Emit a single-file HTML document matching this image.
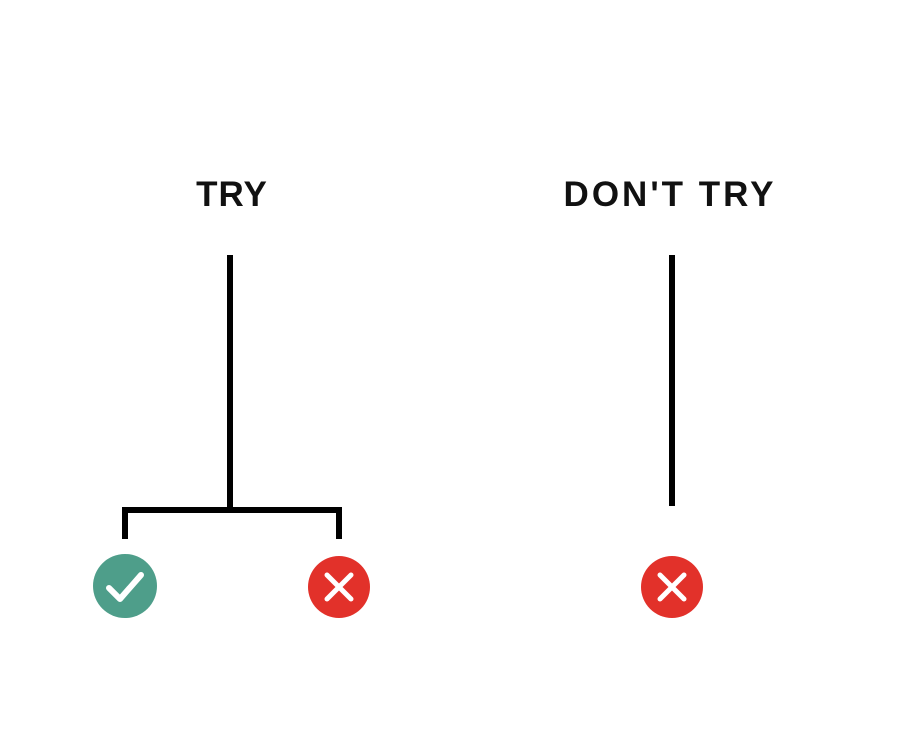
<!DOCTYPE html>
<html><head><style>
html,body{margin:0;padding:0;background:#fff;}
body{width:912px;height:731px;position:relative;overflow:hidden;}
svg{position:absolute;left:0;top:0;}
</style></head><body>
<svg width="912" height="731" viewBox="0 0 912 731">
<g font-family="Liberation Sans, sans-serif" font-size="35" font-weight="bold" fill="#111" text-anchor="middle">
<text x="232" y="206" letter-spacing="1">TRY</text>
<text x="670" y="206" letter-spacing="3">DON'T TRY</text>
</g>
<g stroke="#000" stroke-width="6" fill="none">
<line x1="230" y1="255" x2="230" y2="512"/>
<polyline points="125,539 125,510 339,510 339,539"/>
<line x1="672" y1="255" x2="672" y2="506"/>
</g>
<circle cx="125" cy="586" r="32" fill="#4e9e8a"/>
<polyline points="109,588 120,599 141,575" stroke="#fff" stroke-width="6" fill="none" stroke-linecap="round" stroke-linejoin="round"/>
<circle cx="339" cy="587" r="31" fill="#e2312a"/>
<g stroke="#fff" stroke-width="5" stroke-linecap="round"><line x1="327" y1="575" x2="351" y2="599"/><line x1="351" y1="575" x2="327" y2="599"/></g>
<circle cx="672" cy="587" r="31" fill="#e2312a"/>
<g stroke="#fff" stroke-width="5" stroke-linecap="round"><line x1="660" y1="575" x2="684" y2="599"/><line x1="684" y1="575" x2="660" y2="599"/></g>
</svg>
</body></html>
